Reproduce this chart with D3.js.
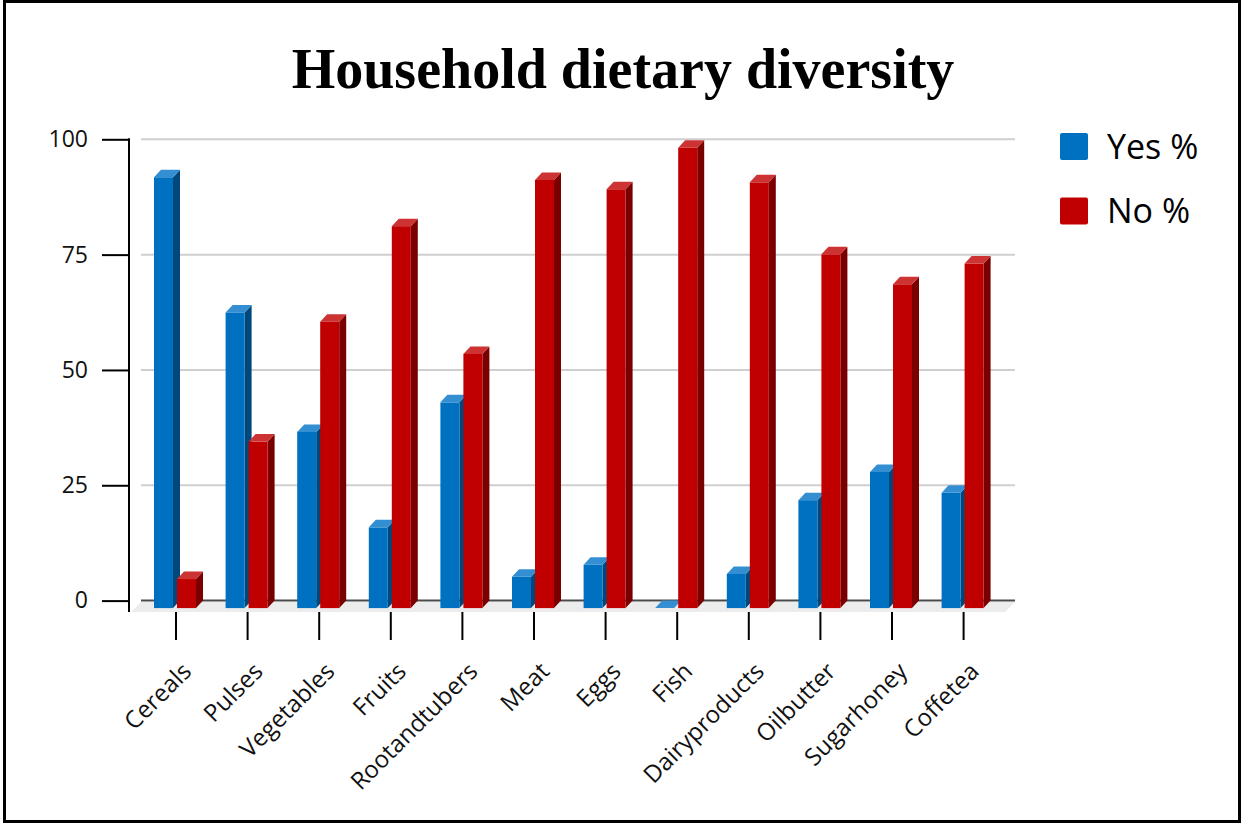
<!DOCTYPE html>
<html>
<head>
<meta charset="utf-8">
<script src="https://cdn.jsdelivr.net/npm/d3@7"></script>
<style>
  html, body { margin: 0; padding: 0; background: #fff; }
  svg { display: block; }
</style>
</head>
<body>
<svg id="chart" width="1244" height="826"></svg>
<script>
// Household dietary diversity: share of households that consumed each food group
const categories = ["Cereals", "Pulses", "Vegetables", "Fruits", "Rootandtubers", "Meat",
                    "Eggs", "Fish", "Dairyproducts", "Oilbutter", "Sugarhoney", "Coffetea"];
const yesPct = [93.4, 64.1, 38.2, 17.5, 44.6, 6.8, 9.4, 0, 7.4, 23.4, 29.5, 25.0];
const noPct  = [6.3, 36.1, 62.1, 82.8, 55.1, 92.8, 90.8, 99.8, 92.3, 76.7, 70.2, 74.7];
const yTicks = [0, 25, 50, 75, 100];
const seriesNames = ["Yes %", "No %"];

const svg = d3.select("#chart");

// outer frame
svg.append("rect")
  .attr("x", 4.5).attr("y", 1.5).attr("width", 1235).attr("height", 820)
  .attr("fill", "#fff").attr("stroke", "#000").attr("stroke-width", 3);

// title
svg.append("text")
  .attr("x", 623).attr("y", 88)
  .attr("text-anchor", "middle")
  .attr("font-family", "'Liberation Serif', 'Times New Roman', serif")
  .attr("font-weight", "bold")
  .attr("font-size", 56)
  .attr("fill", "#000")
  .text("Household dietary diversity");

// scales: y on the back wall, x bands for the front of the floor
const y = d3.scaleLinear().domain([0, 100]).range([600.6, 139.3]);
const x = d3.scaleBand().domain(categories).range([140.2, 999.4]);
const depthX = 7, depthY = 7.5;       // 3D offset between front face and back wall
const barW = 19;
const wallLeft = 141, wallRight = 1015;

// back-wall gridlines
svg.append("g").selectAll("line")
  .data(yTicks.filter(d => d > 0))
  .join("line")
  .attr("x1", wallLeft).attr("x2", wallRight)
  .attr("y1", d => y(d)).attr("y2", d => y(d))
  .attr("stroke", "#cfcfcf").attr("stroke-width", 2);

// floor
const y0 = y(0);
svg.append("path")
  .attr("d", `M${wallLeft},${y0 + 1.5} L${wallRight},${y0 + 1.5} L${wallRight - 10},${y0 + 11.5} L${wallLeft - 10},${y0 + 11.5} Z`)
  .attr("fill", "#ececec");

// baseline on the back wall
svg.append("line")
  .attr("x1", wallLeft).attr("x2", wallRight)
  .attr("y1", y0).attr("y2", y0)
  .attr("stroke", "#4a4a4a").attr("stroke-width", 2);

// y axis with ticks pointing left
const yAxis = d3.axisLeft(y).tickValues(yTicks).tickSize(27).tickPadding(14);
const yAxisG = svg.append("g").attr("transform", "translate(129,0)").call(yAxis);
yAxisG.select(".domain").remove();
yAxisG.selectAll(".tick line").attr("stroke", "#000").attr("stroke-width", 2);
yAxisG.selectAll(".tick text")
  .attr("font-family", "'Open Sans', sans-serif")
  .attr("font-size", 23)
  .attr("fill", "#111");
svg.append("line")
  .attr("x1", 129).attr("x2", 129).attr("y1", 138.3).attr("y2", 612)
  .attr("stroke", "#000").attr("stroke-width", 2);

// x axis ticks and rotated labels
const xAxis = d3.axisBottom(x).tickSize(28).tickPadding(0);
const xAxisG = svg.append("g").attr("transform", "translate(0,612)").call(xAxis);
xAxisG.select(".domain").remove();
xAxisG.selectAll(".tick line").attr("stroke", "#000").attr("stroke-width", 2);
xAxisG.selectAll(".tick text")
  .attr("font-family", "'Open Sans', sans-serif")
  .attr("font-size", 24)
  .attr("fill", "#111")
  .attr("text-anchor", "end")
  .attr("dy", 0)
  .attr("transform", "translate(-3,41) rotate(-45)");

// 3D bars
const colors = {
  "Yes %": { front: "#0070c0", side: "#00487c", top: "#338fd2" },
  "No %":  { front: "#c00000", side: "#7a0000", top: "#cd3333" }
};
const offsets = { "Yes %": -22, "No %": 1 };

const rows = [];
categories.forEach((c, i) => {
  rows.push({ cat: c, series: "Yes %", value: yesPct[i] });
  rows.push({ cat: c, series: "No %", value: noPct[i] });
});

const bars = svg.append("g").selectAll("g.bar")
  .data(rows)
  .join("g")
  .attr("class", "bar");

bars.each(function (d) {
  const g = d3.select(this);
  const col = colors[d.series];
  const xl = x(d.cat) + x.bandwidth() / 2 + offsets[d.series];
  const xr = xl + barW;
  const top = y(d.value) + depthY;     // front face top
  const bot = y(0) + depthY;           // front face bottom
  // side face
  g.append("path")
    .attr("d", `M${xr},${top} L${xr + depthX},${top - depthY} L${xr + depthX},${bot - depthY} L${xr},${bot} Z`)
    .attr("fill", col.side);
  // front face
  g.append("rect")
    .attr("x", xl).attr("y", top)
    .attr("width", barW).attr("height", Math.max(0, bot - top))
    .attr("fill", col.front);
  // top face
  g.append("path")
    .attr("d", `M${xl},${top} L${xr},${top} L${xr + depthX},${top - depthY} L${xl + depthX},${top - depthY} Z`)
    .attr("fill", col.top);
});

// legend
const legend = svg.append("g").attr("transform", "translate(1060,133)");
seriesNames.forEach((name, i) => {
  const row = legend.append("g").attr("transform", `translate(0,${i * 64.5})`);
  row.append("rect")
    .attr("width", 28).attr("height", 27).attr("rx", 2)
    .attr("fill", colors[name].front);
  row.append("text")
    .attr("x", 47).attr("y", 25.5)
    .attr("font-family", "'Open Sans', sans-serif")
    .attr("font-size", 34)
    .attr("fill", "#000")
    .text(name);
});
</script>
</body>
</html>
